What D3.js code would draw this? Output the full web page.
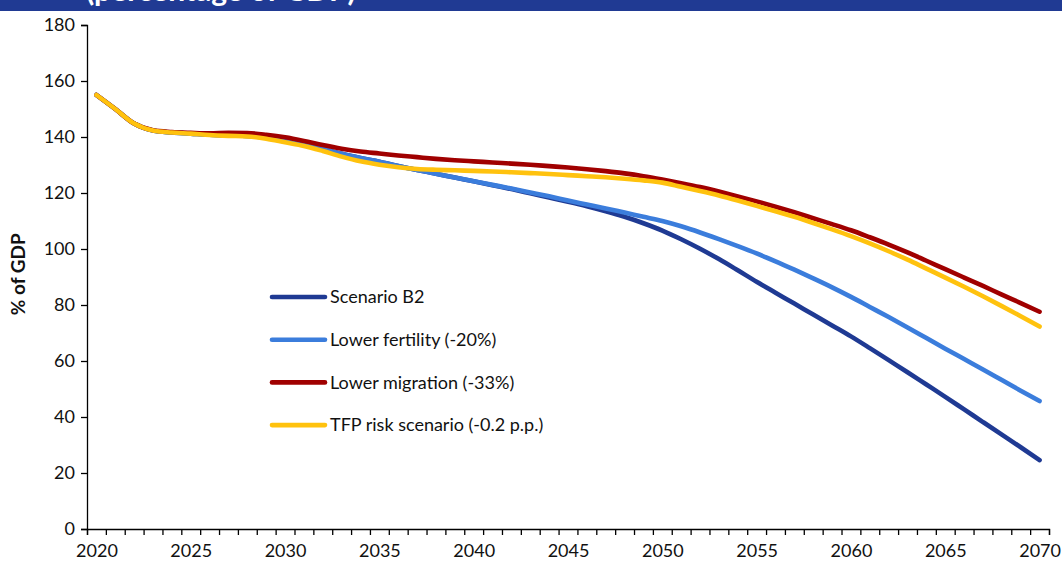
<!DOCTYPE html>
<html>
<head>
<meta charset="utf-8">
<script src="https://cdn.jsdelivr.net/npm/d3@7"></script>
<style>
  html, body { margin: 0; padding: 0; background: #fff; }
  svg { display: block; }
  text { font-family: Lato, "Open Sans", sans-serif; fill: #111; }
</style>
</head>
<body>
<svg id="chart" width="1062" height="565"></svg>
<script>
// Years on the category axis
const years = d3.range(2020, 2071);

// Tick labels shown on the x axis
const xTickLabels = [2020, 2025, 2030, 2035, 2040, 2045, 2050, 2055, 2060, 2065, 2070];
const yTicks = [0, 20, 40, 60, 80, 100, 120, 140, 160, 180];

// Debt ratio paths, % of GDP, 2020-2070
const scenarioB2 = [
  155.0, 150.0, 144.8, 142.3, 141.6, 141.2, 140.8, 140.6, 140.4, 139.8,
  138.8, 137.5, 135.8, 134.0, 132.5, 131.2, 129.6, 128.2, 126.9, 125.5,
  124.2, 122.8, 121.4, 119.9, 118.4, 116.9, 115.3, 113.5, 111.5, 109.2,
  106.6, 103.5, 100.1, 96.4, 92.4, 88.3, 84.4, 80.5, 76.6, 72.7,
  68.8, 64.6, 60.3, 56.0, 51.6, 47.2, 42.7, 38.2, 33.7, 29.2,
  24.6
];
const lowerFertility = [
  155.0, 150.0, 144.8, 142.3, 141.6, 141.2, 140.8, 140.6, 140.4, 139.8,
  138.8, 137.5, 135.8, 134.0, 132.5, 131.2, 129.6, 128.2, 126.9, 125.5,
  124.2, 122.9, 121.6, 120.2, 118.8, 117.3, 115.9, 114.5, 113.0, 111.5,
  110.0, 108.1, 105.9, 103.5, 101.0, 98.4, 95.6, 92.6, 89.5, 86.3,
  82.9, 79.3, 75.7, 72.0, 68.2, 64.4, 60.7, 57.0, 53.2, 49.4,
  45.7
];
const lowerMigration = [
  155.0, 150.0, 144.8, 142.4, 141.8, 141.5, 141.3, 141.5, 141.4, 140.8,
  139.9, 138.6, 137.1, 135.8, 134.8, 134.1, 133.4, 132.8, 132.2, 131.7,
  131.3, 130.9, 130.5, 130.1, 129.6, 129.1, 128.5, 127.8, 127.0, 126.0,
  124.8, 123.5, 122.1, 120.5, 118.8, 117.0, 115.1, 113.1, 111.0, 108.9,
  106.7, 104.2, 101.6, 98.8, 95.8, 92.8, 89.8, 86.8, 83.7, 80.7,
  77.6
];
const tfpRisk = [
  155.0, 150.0, 144.8, 142.3, 141.6, 141.2, 140.7, 140.4, 140.2, 139.4,
  138.1, 136.8, 135.0, 133.0, 131.3, 130.1, 129.2, 128.6, 128.3, 128.1,
  127.9, 127.7, 127.4, 127.1, 126.8, 126.4, 126.0, 125.6, 125.1, 124.5,
  123.7, 122.2, 120.7, 119.1, 117.3, 115.4, 113.5, 111.5, 109.3, 107.0,
  104.6, 102.0, 99.2, 96.2, 93.0, 89.8, 86.5, 83.1, 79.6, 76.0,
  72.3
];

const seriesNames = ["Scenario B2", "Lower fertility (-20%)", "Lower migration (-33%)", "TFP risk scenario (-0.2 p.p.)"];
const seriesColors = ["#1F3A93", "#3B7DDC", "#A00000", "#FFC20E"];
const seriesValues = [scenarioB2, lowerFertility, lowerMigration, tfpRisk];

const svg = d3.select("#chart");

// Header band across the top; its heading sits mostly above the page edge
svg.append("rect")
  .attr("x", 0).attr("y", 0).attr("width", 1062).attr("height", 11)
  .attr("fill", "#203A93");
svg.append("text")
  .attr("x", 86).attr("y", 1)
  .style("font-size", "30px").style("font-weight", "bold")
  .style("fill", "#fff")
  .text("(percentage of GDP)");

// Scales: each year occupies one slot between boundary ticks
const x = d3.scaleLinear().domain([2019.5, 2070.5]).range([87, 1049]);
const y = d3.scaleLinear().domain([0, 180]).range([529, 25]);

// Y axis
const yAxis = svg.append("g")
  .attr("transform", `translate(${x(2019.5)},0)`)
  .call(d3.axisLeft(y).tickValues(yTicks).tickSize(6).tickPadding(6));
yAxis.select(".domain").attr("stroke", "#000").attr("stroke-width", 1.3);
yAxis.selectAll(".tick line").attr("stroke", "#000").attr("stroke-width", 1.3);
yAxis.selectAll(".tick text")
  .style("font-size", "18px").style("font-family", "Lato, sans-serif").attr("fill", "#111");

// X axis: boundary tick marks
const xTickEdges = d3.range(2019.5, 2071, 1);
const xAxisTicks = svg.append("g")
  .attr("transform", `translate(0,${y(0)})`)
  .call(d3.axisBottom(x).tickValues(xTickEdges).tickSize(6).tickFormat(""));
xAxisTicks.select(".domain").attr("stroke", "#000").attr("stroke-width", 1.3);
xAxisTicks.selectAll(".tick line").attr("stroke", "#000").attr("stroke-width", 1.3);

// X axis: year labels centred on their slot
const xAxisLabels = svg.append("g")
  .attr("transform", `translate(0,${y(0)})`)
  .call(d3.axisBottom(x).tickValues(xTickLabels).tickSize(0).tickPadding(15).tickFormat(d3.format("d")));
xAxisLabels.select(".domain").remove();
xAxisLabels.selectAll(".tick text")
  .style("font-size", "18px").style("font-family", "Lato, sans-serif").attr("fill", "#111");

// Y axis title
svg.append("text")
  .attr("transform", `translate(25,${y(91)}) rotate(-90)`)
  .attr("text-anchor", "middle")
  .style("font-size", "19px").style("font-weight", "bold")
  .text("% of GDP");

// Lines
const line = d3.line()
  .x((d, i) => x(years[i]))
  .y(d => y(d))
  .curve(d3.curveMonotoneX);

svg.append("g").selectAll("path")
  .data(seriesValues)
  .join("path")
  .attr("d", line)
  .attr("fill", "none")
  .attr("stroke", (d, i) => seriesColors[i])
  .attr("stroke-width", 4.6)
  .attr("stroke-linecap", "round")
  .attr("stroke-linejoin", "round");

// Legend
const legend = svg.append("g").attr("transform", "translate(272,297)");
const item = legend.selectAll("g")
  .data(seriesNames)
  .join("g")
  .attr("transform", (d, i) => `translate(0,${i * 42.7})`);
item.append("line")
  .attr("x1", 0).attr("x2", 53).attr("y1", 0).attr("y2", 0)
  .attr("stroke", (d, i) => seriesColors[i])
  .attr("stroke-width", 4.6)
  .attr("stroke-linecap", "round");
item.append("text")
  .attr("x", 58).attr("y", 0).attr("dy", "0.35em")
  .style("font-size", "18px")
  .text(d => d);
</script>
</body>
</html>
